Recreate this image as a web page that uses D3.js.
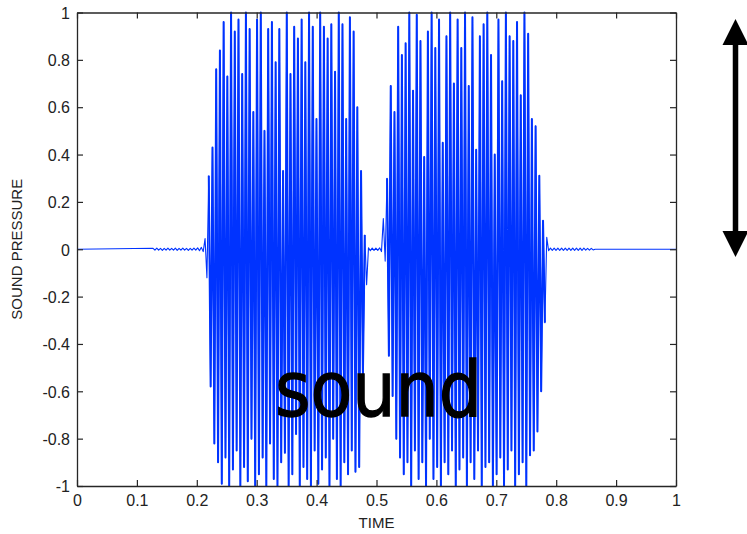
<!DOCTYPE html>
<html>
<head>
<meta charset="utf-8">
<script src="https://cdn.jsdelivr.net/npm/d3@7"></script>
<style>
  html, body { margin: 0; padding: 0; background: #fff; }
  svg { display: block; }
  .tick text { font-family: "Liberation Sans", Arial, sans-serif; font-size: 16px; fill: #222; }
</style>
</head>
<body>
<svg id="chart" width="747" height="534"></svg>
<script>
// ---------------- data ----------------
const xTickValues = [0, 0.1, 0.2, 0.3, 0.4, 0.5, 0.6, 0.7, 0.8, 0.9, 1];
const xTickLabels = ["0", "0.1", "0.2", "0.3", "0.4", "0.5", "0.6", "0.7", "0.8", "0.9", "1"];
const yTickValues = [-1, -0.8, -0.6, -0.4, -0.2, 0, 0.2, 0.4, 0.6, 0.8, 1];
const yTickLabels = ["-1", "-0.8", "-0.6", "-0.4", "-0.2", "0", "0.2", "0.4", "0.6", "0.8", "1"];

const xLabel = "TIME";
const yLabel = "SOUND PRESSURE";
const annotation = "sound";

// sampled signal: samples start at signalStart, one every sampleStep seconds
const signalStart = 0.127;
const sampleStep = 0.0031;
const silenceValue = 0;

const rippleBefore = [0.004, -0.004, 0.005, -0.004, 0.004, -0.005, 0.004, -0.004,
  0.005, -0.004, 0.004, -0.004, 0.005, -0.005, 0.004, -0.004, 0.005, -0.004,
  0.004, -0.005, 0.004, -0.004, 0.005, -0.004, 0.006, -0.006, 0.008, -0.01];

const burst1 = [0.045, -0.12,
  0.31, -0.58, 0.43, -0.82, 0.76, -0.90, 0.84, -0.99, 0.96, -0.88, 0.73, -1.00,
  1.00, -0.93, 0.92, -0.85, 0.97, -1.00, 0.74, -0.92, 1.00, -0.98, 0.93, -0.80,
  0.58, -1.00, 0.97, -0.95, 1.00, -0.88, 0.50, -1.00, 0.93, -0.82, 0.96, -0.97,
  0.79, -1.00, 0.93, -0.90, 0.33, -0.86, 1.00, -1.00, 0.74, -0.95, 0.94, -0.78,
  0.89, -1.00, 0.97, -0.92, 0.79, -0.97, 1.00, -1.00, 0.94, -0.85, 0.55, -0.99,
  1.00, -0.93, 0.94, -0.88, 0.89, -1.00, 0.95, -0.80, 0.75, -0.97, 1.00, -1.00,
  0.95, -0.90, 0.55, -0.95, 0.98, -0.85, 0.92, -0.94, 0.60, -0.92, 0.33, -0.53,
  0.06, -0.15];

const rippleGap = [0.006, -0.006, 0.005, -0.005, 0.005, -0.005, 0.006, -0.01];

const burst2 = [0.13, -0.05,
  0.30, -0.45, 0.69, -0.62, 0.58, -0.80, 0.94, -0.88, 0.82, -0.95, 0.87, -0.90,
  1.00, -1.00, 0.67, -0.85, 0.99, -0.97, 0.88, -0.90, 0.39, -1.00, 0.92, -0.80,
  1.00, -0.97, 0.85, -0.92, 0.97, -1.00, 0.45, -0.90, 0.90, -0.95, 1.00, -0.85,
  0.70, -1.00, 0.97, -0.93, 0.85, -0.88, 1.00, -1.00, 0.69, -0.90, 0.98, -0.97,
  0.42, -0.85, 0.90, -1.00, 0.95, -0.92, 1.00, -0.90, 0.82, -1.00, 0.40, -0.95,
  0.97, -0.88, 0.71, -1.00, 1.00, -0.93, 0.90, -0.85, 0.88, -1.00, 0.96, -0.95,
  0.65, -0.90, 1.00, -1.00, 0.91, -0.87, 0.55, -0.85, 0.52, -0.77, 0.31, -0.60,
  0.12, -0.31, 0.05];

const rippleAfter = [-0.006, 0.005, -0.005, 0.005, -0.005, 0.005, -0.005, 0.005,
  -0.005, 0.005, -0.005, 0.005, -0.005, 0.005, -0.005, 0.005, -0.005, 0.005,
  -0.005, 0.005, -0.004, 0.004, -0.004, 0.004, -0.003];

// ---------------- layout ----------------
const svg = d3.select("#chart");
const plotLeft = 77, plotRight = 676, plotTop = 12.5, plotBottom = 486;
const x = d3.scaleLinear().domain([0, 1]).range([plotLeft, plotRight]);
const y = d3.scaleLinear().domain([-1, 1]).range([plotBottom, plotTop]);

const segments = [rippleBefore, burst1, rippleGap, burst2, rippleAfter];
const samples = [].concat(...segments);
const sampled = samples.map((v, i) => [signalStart + i * sampleStep, v]);
const points = [[0, silenceValue], ...sampled,
  [signalStart + samples.length * sampleStep, silenceValue], [1, silenceValue]];

const line = d3.line().x(d => x(d[0])).y(d => y(d[1]));
const waveColor = "#0033ff";

// full waveform (thin)
svg.append("path")
  .datum(points)
  .attr("fill", "none")
  .attr("stroke", waveColor)
  .attr("stroke-width", 1.1)
  .attr("stroke-linejoin", "round")
  .attr("d", line);

// loud bursts drawn heavier (dense strokes as in the original rendering)
let offset = 0;
segments.forEach(seg => {
  if (seg === burst1 || seg === burst2) {
    svg.append("path")
      .datum(sampled.slice(offset + 2, offset + seg.length - 1))
      .attr("fill", "none")
      .attr("stroke", waveColor)
      .attr("stroke-width", 2.0)
      .attr("stroke-linejoin", "round")
      .attr("d", line);
  }
  offset += seg.length;
});

// axes (box with inward ticks)
const axisColor = "#262626";
const xFmt = (d, i) => xTickLabels[i];
const yFmt = (d, i) => yTickLabels[i];

const gB = svg.append("g").attr("transform", `translate(0,${plotBottom})`)
  .call(d3.axisBottom(x).tickValues(xTickValues).tickFormat(xFmt).tickSizeInner(-6).tickSizeOuter(0).tickPadding(9));
const gT = svg.append("g").attr("transform", `translate(0,${plotTop})`)
  .call(d3.axisTop(x).tickValues(xTickValues).tickFormat("").tickSizeInner(-6).tickSizeOuter(0));
const gL = svg.append("g").attr("transform", `translate(${plotLeft},0)`)
  .call(d3.axisLeft(y).tickValues(yTickValues).tickFormat(yFmt).tickSizeInner(-6).tickSizeOuter(0).tickPadding(7));
const gR = svg.append("g").attr("transform", `translate(${plotRight},0)`)
  .call(d3.axisRight(y).tickValues(yTickValues).tickFormat("").tickSizeInner(-6).tickSizeOuter(0));

[gB, gT, gL, gR].forEach(g => {
  g.select(".domain").attr("stroke", axisColor).attr("stroke-width", 1.3);
  g.selectAll(".tick line").attr("stroke", axisColor).attr("stroke-width", 1.2);
  g.attr("font-family", null).attr("font-size", null);
});
gL.selectAll(".tick text").attr("dy", "0.36em");

// axis titles
svg.append("text")
  .attr("x", (plotLeft + plotRight) / 2).attr("y", 528)
  .attr("text-anchor", "middle")
  .attr("font-family", "Liberation Sans, Arial, sans-serif")
  .attr("font-size", 15).attr("fill", "#222")
  .text(xLabel);

svg.append("text")
  .attr("transform", `translate(22,${(plotTop + plotBottom) / 2}) rotate(-90)`)
  .attr("text-anchor", "middle")
  .attr("font-family", "Liberation Sans, Arial, sans-serif")
  .attr("font-size", 15).attr("fill", "#222")
  .text(yLabel);

// big annotation
svg.append("text")
  .attr("x", 275).attr("y", 416)
  .attr("font-family", "DejaVu Sans, sans-serif")
  .attr("font-size", 76).attr("fill", "#000")
  .attr("stroke", "#000").attr("stroke-width", 1.3)
  .attr("textLength", 207).attr("lengthAdjust", "spacingAndGlyphs")
  .text(annotation);

// double-headed arrow
const ax = 735.5;
svg.append("line")
  .attr("x1", ax).attr("x2", ax).attr("y1", 40).attr("y2", 236)
  .attr("stroke", "#000").attr("stroke-width", 5.5);
svg.append("path")
  .attr("d", `M${ax},19 L${ax - 13},45 L${ax + 13},45 Z`)
  .attr("fill", "#000");
svg.append("path")
  .attr("d", `M${ax},257 L${ax - 13},231 L${ax + 13},231 Z`)
  .attr("fill", "#000");
</script>
</body>
</html>
